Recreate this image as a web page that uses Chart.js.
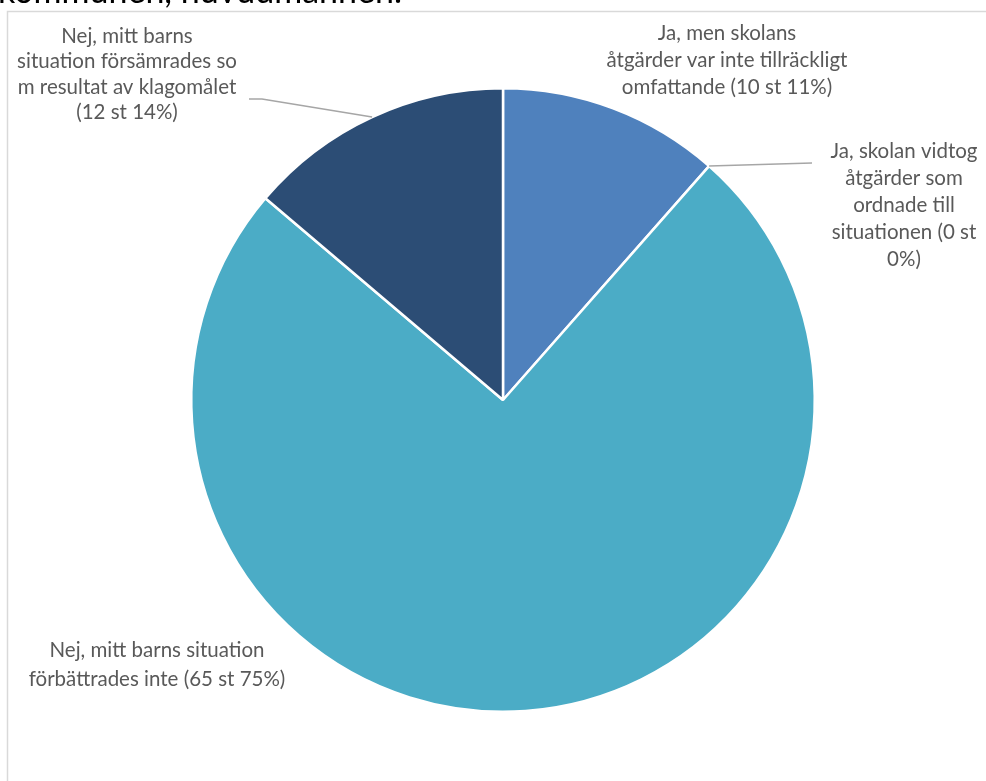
<!DOCTYPE html>
<html>
<head>
<meta charset="utf-8">
<script src="https://cdn.jsdelivr.net/npm/chart.js@4.4.0/dist/chart.umd.min.js"></script>
<style>
  body { margin: 0; background: #fff; }
  #wrap { position: relative; width: 986px; height: 781px; overflow: hidden; }
</style>
</head>
<body>
<div id="wrap"><canvas id="pie"></canvas></div>
<script>
// data
const categories = [
  "Ja, men skolans åtgärder var inte tillräckligt omfattande",
  "Ja, skolan vidtog åtgärder som ordnade till situationen",
  "Nej, mitt barns situation förbättrades inte",
  "Nej, mitt barns situation försämrades som resultat av klagomålet"
];
const counts = [10, 0, 65, 12];
const percents = [11, 0, 75, 14];
const labelLines = [
  ["Ja, men skolans", "åtgärder var inte tillräckligt", "omfattande (10 st 11%)"],
  ["Ja, skolan vidtog", "åtgärder som", "ordnade till", "situationen (0 st", "0%)"],
  ["Nej, mitt barns situation", "förbättrades inte (65 st 75%)"],
  ["Nej, mitt barns", "situation försämrades so", "m resultat av klagomålet", "(12 st 14%)"]
];
const colors = ["#4F81BD", "#4BACC6", "#4BACC6", "#2C4D75"];
const titleText = "kommunen, huvudmannen.";

// where each label sits + optional leader line end points
const labelPos = [
  { x: 727, y: 33, lh: 27 },
  { x: 904, y: 151, lh: 27, leader: [[812, 163]] },
  { x: 157, y: 650, lh: 29 },
  { x: 127, y: 36, lh: 25.5, leader: [[262, 99], [249, 99]] }
];

const FONT = "20.5px Lato";

const decor = {
  id: "decor",
  beforeDraw(chart) {
    const ctx = chart.ctx;
    ctx.save();
    ctx.strokeStyle = "#D9D9D9";
    ctx.lineWidth = 1.5;
    ctx.beginPath();
    ctx.moveTo(7.5, 781);
    ctx.lineTo(7.5, 11.5);
    ctx.lineTo(986, 11.5);
    ctx.stroke();
    ctx.fillStyle = "#000";
    ctx.font = "34px Lato";
    ctx.textBaseline = "alphabetic";
    ctx.fillText(titleText, -2, 2.5);
    ctx.restore();
  },
  afterDraw(chart) {
    const ctx = chart.ctx;
    const arcs = chart.getDatasetMeta(0).data;
    ctx.save();
    labelPos.forEach((p, i) => {
      if (p.leader) {
        const a = arcs[i];
        const mid = (a.startAngle + a.endAngle) / 2;
        const r = a.outerRadius;
        ctx.strokeStyle = "#A6A6A6";
        ctx.lineWidth = 1.5;
        ctx.beginPath();
        ctx.moveTo(a.x + Math.cos(mid) * r, a.y + Math.sin(mid) * r);
        p.leader.forEach(pt => ctx.lineTo(pt[0], pt[1]));
        ctx.stroke();
      }
      ctx.fillStyle = "#595959";
      ctx.font = FONT;
      ctx.textAlign = "center";
      ctx.textBaseline = "middle";
      labelLines[i].forEach((line, k) => ctx.fillText(line, p.x, p.y + k * p.lh));
    });
    ctx.restore();
  }
};

new Chart(document.getElementById("pie"), {
  type: "pie",
  data: {
    labels: categories,
    datasets: [{
      data: counts,
      backgroundColor: colors,
      borderColor: "#fff",
      borderWidth: 2.5
    }]
  },
  options: {
    responsive: true,
    maintainAspectRatio: false,
    animation: false,
    layout: { padding: { left: 190, right: 170, top: 87, bottom: 68 } },
    plugins: { legend: { display: false }, tooltip: { enabled: false } }
  },
  plugins: [decor]
});
</script>
</body>
</html>
